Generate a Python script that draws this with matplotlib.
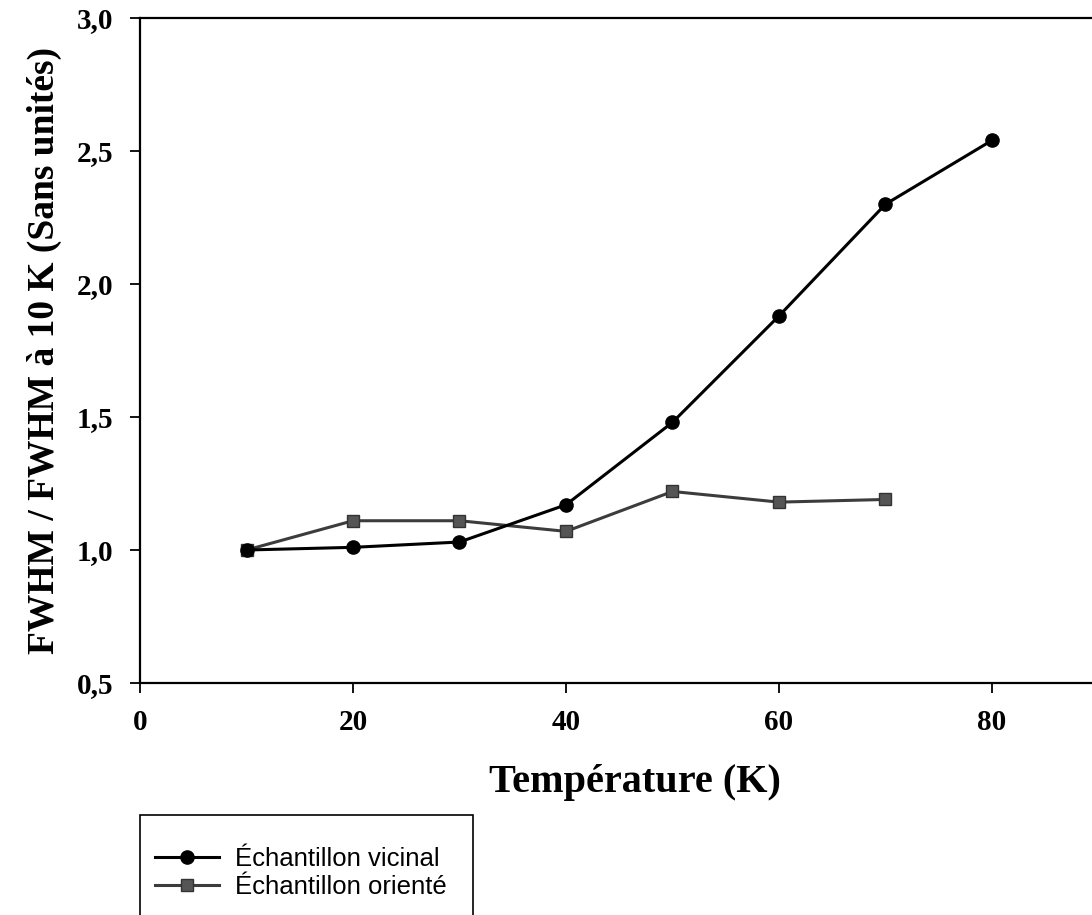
import matplotlib.pyplot as plt
from matplotlib.patches import Rectangle

# data
temp_vicinal = [10, 20, 30, 40, 50, 60, 70, 80]
fwhm_vicinal = [1.00, 1.01, 1.03, 1.17, 1.48, 1.88, 2.30, 2.54]
temp_oriente = [10, 20, 30, 40, 50, 60, 70]
fwhm_oriente = [1.00, 1.11, 1.11, 1.07, 1.22, 1.18, 1.19]
xticks = [0, 20, 40, 60, 80]
yticks = [0.5, 1.0, 1.5, 2.0, 2.5, 3.0]
ytick_labels = ['0,5', '1,0', '1,5', '2,0', '2,5', '3,0']

W, H = 1092, 915
ax_left, ax_right = 140, 1130   # right part of the frame runs off the picture
fig = plt.figure(figsize=(W / 100, H / 100), dpi=100)
ax = fig.add_axes([ax_left / W, (H - 683) / H, (ax_right - ax_left) / W, (683 - 18) / H])

ax.plot(temp_vicinal, fwhm_vicinal, color='black', lw=2.2, marker='o',
        markersize=9.5, label='Échantillon vicinal', zorder=3)
ax.plot(temp_oriente, fwhm_oriente, color='#3c3c3c', lw=2.2, marker='s',
        markersize=8, markerfacecolor='#555555', markeredgecolor='#333333',
        label='Échantillon orienté', zorder=2)

ax.set_xlim(0, (ax_right - ax_left) / 10.65)
ax.set_ylim(0.5, 3.0)
ax.set_xticks(xticks)
ax.set_xticklabels([str(t) for t in xticks])
ax.set_yticks(yticks)
ax.set_yticklabels(ytick_labels)

serif = 'Liberation Serif'
for lab in ax.get_xticklabels() + ax.get_yticklabels():
    lab.set_fontfamily(serif)
    lab.set_fontweight('bold')
    lab.set_fontsize(21)

ax.tick_params(direction='out', length=7, width=1.3)
ax.tick_params(axis='y', pad=12)
ax.tick_params(axis='x', pad=12)
ax.spines['right'].set_visible(False)
for s in ['left', 'bottom', 'top']:
    ax.spines[s].set_linewidth(1.6)

ax.set_xlabel('Température (K)', fontfamily=serif, fontweight='bold',
              fontsize=29, labelpad=20)
ax.set_ylabel('FWHM / FWHM à 10 K (Sans unités)', fontfamily=serif,
              fontweight='bold', fontsize=27, labelpad=11)

# legend box: top-left at (140, 815) px, bottom runs off the picture
fig.patches.append(Rectangle((140 / W, -0.05), (473 - 140) / W, (915 - 815) / H + 0.05,
                             transform=fig.transFigure, fill=False,
                             edgecolor='black', linewidth=1.2))
leg = fig.legend(loc='upper left', bbox_to_anchor=(155 / W, 1 - 847 / H),
                 prop={'family': 'Liberation Sans', 'size': 18.5},
                 frameon=False, borderpad=0, borderaxespad=0,
                 handlelength=2.5, handletextpad=0.6, labelspacing=0.15)

fig.savefig('out.png', dpi=100)
